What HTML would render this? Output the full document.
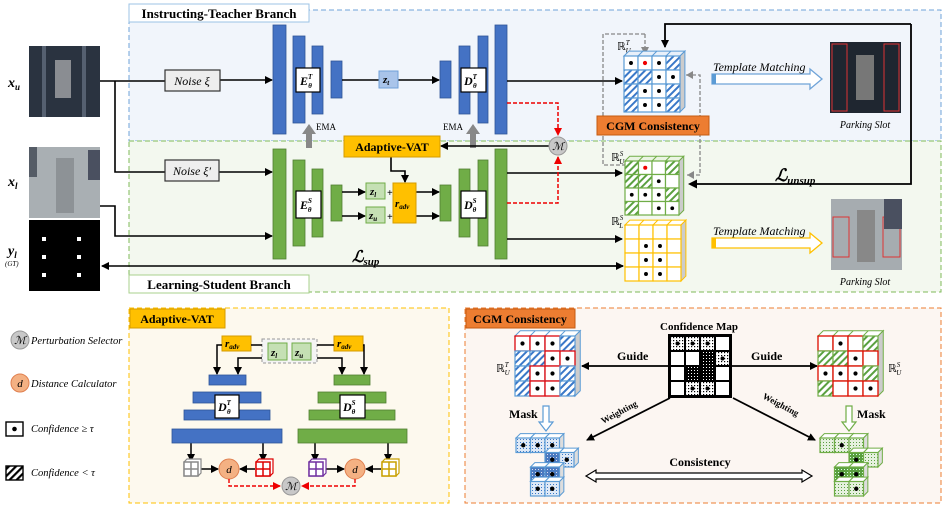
<!DOCTYPE html>
<html><head><meta charset="utf-8"><style>
html,body{margin:0;padding:0;background:#fff;}
svg{display:block;font-family:"Liberation Serif",serif;}
.it{font-style:italic;}
.b{font-weight:bold;}
</style></head><body>
<svg id="s" width="946" height="508" viewBox="0 0 946 508" xmlns="http://www.w3.org/2000/svg">
<defs>
<marker id="ak" markerWidth="8" markerHeight="8" refX="7" refY="4" orient="auto" markerUnits="userSpaceOnUse"><path d="M0,0 L8,4 L0,8 z" fill="#000"/></marker>
<marker id="ar" markerWidth="8" markerHeight="8" refX="7" refY="4" orient="auto" markerUnits="userSpaceOnUse"><path d="M0,0 L8,4 L0,8 z" fill="#e00"/></marker>
<marker id="ag" markerWidth="8" markerHeight="8" refX="7" refY="4" orient="auto" markerUnits="userSpaceOnUse"><path d="M0,0 L8,4 L0,8 z" fill="#888"/></marker>
<pattern id="hb" width="5" height="5" patternUnits="userSpaceOnUse" patternTransform="rotate(45)"><rect width="5" height="5" fill="#fff"/><rect width="2" height="5" fill="#3a78c8"/></pattern>
<pattern id="hg" width="5" height="5" patternUnits="userSpaceOnUse" patternTransform="rotate(45)"><rect width="5" height="5" fill="#fff"/><rect width="2" height="5" fill="#5aa040"/></pattern>
<pattern id="hk" width="5" height="5" patternUnits="userSpaceOnUse" patternTransform="rotate(45)"><rect width="5" height="5" fill="#fff"/><rect width="2.2" height="5" fill="#000"/></pattern>
<pattern id="dk" width="3" height="3" patternUnits="userSpaceOnUse"><rect width="3" height="3" fill="#000"/><rect x="1" y="1" width="1" height="1" fill="#fff"/></pattern>
<pattern id="dw" width="3" height="3" patternUnits="userSpaceOnUse"><rect width="3" height="3" fill="#fff"/><rect x="1" y="1" width="1.2" height="1.2" fill="#000"/></pattern>
<pattern id="db" width="3" height="3" patternUnits="userSpaceOnUse"><rect width="3" height="3" fill="#dfe9f6"/><rect x="1" y="1" width="1" height="1" fill="#3a78c8"/></pattern>
<pattern id="dg" width="3" height="3" patternUnits="userSpaceOnUse"><rect width="3" height="3" fill="#e6f1df"/><rect x="1" y="1" width="1" height="1" fill="#5aa040"/></pattern>
<pattern id="dgd" width="3" height="3" patternUnits="userSpaceOnUse"><rect width="3" height="3" fill="#5aa040"/><rect x="1" y="1" width="1" height="1" fill="#dfe"/></pattern>
<pattern id="dbd" width="3" height="3" patternUnits="userSpaceOnUse"><rect width="3" height="3" fill="#4a7ac0"/><rect x="1" y="1" width="1" height="1" fill="#dde"/></pattern>
</defs>

<rect x="129" y="10" width="812" height="131" fill="#f1f5fb" stroke="#6fa3d8" stroke-dasharray="5,3"/>
<rect x="129" y="141" width="812" height="151" fill="#f3f8ef" stroke="#7fba5a" stroke-dasharray="5,3"/>
<rect x="129" y="4" width="180" height="18" fill="#fff" stroke="#9cc3e6"/>
<text x="219" y="18" text-anchor="middle" font-size="13" class="b">Instructing-Teacher Branch</text>
<rect x="129" y="275" width="180" height="18" fill="#fff" stroke="#a8d08d"/>
<text x="219" y="289" text-anchor="middle" font-size="13" class="b">Learning-Student Branch</text>

<rect x="29" y="46" width="71" height="71" fill="#2a3340"/>
<rect x="55" y="60" width="16" height="38" fill="#8a8d92"/>
<rect x="42" y="46" width="4" height="71" fill="#556070"/><rect x="82" y="46" width="4" height="71" fill="#556070"/>
<rect x="29" y="147" width="71" height="71" fill="#a9afb3"/>
<rect x="56" y="158" width="18" height="55" fill="#8d9296"/>
<rect x="29" y="147" width="8" height="30" fill="#555c66"/><rect x="88" y="150" width="12" height="30" fill="#4a5060"/>
<rect x="29" y="220" width="71" height="71" fill="#000"/>
<g fill="#fff"><rect x="42" y="237" width="4" height="4"/><rect x="77" y="237" width="4" height="4"/><rect x="42" y="255" width="4" height="4"/><rect x="77" y="255" width="4" height="4"/><rect x="42" y="273" width="4" height="4"/><rect x="77" y="273" width="4" height="4"/></g>
<text x="8" y="87" font-size="14" class="it b">x<tspan font-size="9" dy="3">u</tspan></text>
<text x="8" y="186" font-size="14" class="it b">x<tspan font-size="9" dy="3">l</tspan></text>
<text x="8" y="255" font-size="14" class="it b">y<tspan font-size="9" dy="3">l</tspan></text>
<text x="5" y="266" font-size="7" class="it">(GT)</text>

<g stroke="#000" stroke-width="1.6" fill="none">
<line x1="100" y1="81" x2="165" y2="81"/>
<line x1="220" y1="80" x2="272" y2="80" marker-end="url(#ak)"/>
<polyline points="115,81 115,172 165,172"/>
<line x1="219" y1="172" x2="272" y2="172" marker-end="url(#ak)"/>
<polyline points="100,206 115,206 115,236 272,236" marker-end="url(#ak)"/>
<line x1="623" y1="266" x2="102" y2="266" marker-end="url(#ak)"/>
<line x1="500" y1="266" x2="623" y2="266" marker-end="url(#ak)"/>
</g>
<rect x="165" y="70" width="55" height="21" fill="#eee" stroke="#333" stroke-width="1.2"/>
<text x="192" y="85" text-anchor="middle" font-size="12" class="it">Noise ξ</text>
<rect x="165" y="160" width="54" height="21" fill="#eee" stroke="#333" stroke-width="1.2"/>
<text x="192" y="175" text-anchor="middle" font-size="12" class="it">Noise ξ′</text>

<g fill="#4472c4" stroke="#2f5597" stroke-width="0.8">
<rect x="273" y="25" width="13" height="109"/><rect x="293" y="36" width="12" height="87"/><rect x="312" y="46" width="11" height="68"/><rect x="331" y="61" width="11" height="37"/>
<rect x="440" y="61" width="11" height="37"/><rect x="459" y="46" width="11" height="68"/><rect x="478" y="36" width="10" height="87"/><rect x="495" y="25" width="12" height="109"/>
</g>
<g stroke="#000" stroke-width="1.6" fill="none">
<line x1="342" y1="80" x2="379" y2="80"/><line x1="398" y1="80" x2="439" y2="80" marker-end="url(#ak)"/>
<line x1="507" y1="81" x2="622" y2="81" marker-end="url(#ak)"/>
</g>
<rect x="296" y="68" width="24" height="24" fill="#fff" stroke="#000" stroke-width="1.2"/>
<text x="300" y="85" font-size="12" class="it b">E<tspan font-size="7" dy="-6">T</tspan><tspan font-size="7" dx="-4" dy="9">θ</tspan></text>
<rect x="461" y="68" width="25" height="24" fill="#fff" stroke="#000" stroke-width="1.2"/>
<text x="464" y="85" font-size="12" class="it b">D<tspan font-size="7" dy="-6">T</tspan><tspan font-size="7" dx="-4" dy="9">θ</tspan></text>
<rect x="379" y="71" width="19" height="17" fill="#a9c4ea" stroke="#6f9fd8"/>
<text x="383" y="83" font-size="11" class="it b">z<tspan font-size="7" dy="2">t</tspan></text>
<text x="316" y="130" font-size="9">EMA</text><text x="443" y="130" font-size="9">EMA</text>
<path d="M306,148 L306,134 L302,134 L309,124 L316,134 L312,134 L312,148 z" fill="#888"/>
<path d="M470,148 L470,134 L466,134 L473,124 L480,134 L476,134 L476,148 z" fill="#888"/>

<g fill="#70ad47" stroke="#507e32" stroke-width="0.8">
<rect x="273" y="149" width="13" height="110"/><rect x="293" y="160" width="12" height="86"/><rect x="312" y="169" width="11" height="68"/><rect x="331" y="185" width="11" height="36"/>
<rect x="440" y="185" width="11" height="36"/><rect x="459" y="169" width="11" height="68"/><rect x="478" y="160" width="10" height="86"/><rect x="495" y="149" width="12" height="110"/>
</g>
<rect x="296" y="191" width="25" height="27" fill="#fff" stroke="#000" stroke-width="1.2"/>
<text x="300" y="209" font-size="12" class="it b">E<tspan font-size="7" dy="-6">S</tspan><tspan font-size="7" dx="-4" dy="9">θ</tspan></text>
<rect x="461" y="191" width="25" height="27" fill="#fff" stroke="#000" stroke-width="1.2"/>
<text x="464" y="209" font-size="12" class="it b">D<tspan font-size="7" dy="-6">S</tspan><tspan font-size="7" dx="-4" dy="9">θ</tspan></text>
<g stroke="#000" stroke-width="1.6" fill="none">
<line x1="342" y1="192" x2="365" y2="192" marker-end="url(#ak)"/><line x1="342" y1="216" x2="365" y2="216" marker-end="url(#ak)"/>
<line x1="416" y1="192" x2="439" y2="192" marker-end="url(#ak)"/><line x1="416" y1="216" x2="439" y2="216" marker-end="url(#ak)"/>
<line x1="507" y1="173" x2="622" y2="173" marker-end="url(#ak)"/>
<line x1="507" y1="239" x2="622" y2="239" marker-end="url(#ak)"/>
<line x1="549" y1="146" x2="441" y2="146" marker-end="url(#ak)"/>
<polyline points="391,157 391,171 405,171 405,182" marker-end="url(#ak)"/>
</g>
<rect x="366" y="183" width="19" height="16" fill="#c5e0b4" stroke="#70ad47"/>
<text x="370" y="195" font-size="11" class="it b">z<tspan font-size="7" dy="2">l</tspan></text>
<rect x="366" y="207" width="19" height="16" fill="#c5e0b4" stroke="#70ad47"/>
<text x="369" y="219" font-size="11" class="it b">z<tspan font-size="7" dy="2">u</tspan></text>
<text x="387" y="196" font-size="10" class="b">+</text><text x="387" y="220" font-size="10" class="b">+</text>
<rect x="393" y="183" width="23" height="40" fill="#ffc000" stroke="#d59b00"/>
<text x="395" y="207" font-size="11" class="it b">r<tspan font-size="7" dy="2">adv</tspan></text>
<rect x="344" y="136" width="96" height="21" fill="#ffc000" stroke="#d59b00"/>
<text x="392" y="151" text-anchor="middle" font-size="12" class="b">Adaptive-VAT</text>
<g stroke="#e00" stroke-width="1.5" fill="none" stroke-dasharray="4,2">
<polyline points="507,103 558,103 558,135" marker-end="url(#ar)"/>
<polyline points="507,203 558,203 558,157" marker-end="url(#ar)"/>
</g>
<circle cx="558" cy="146" r="9" fill="#c8c8c8" stroke="#999"/>
<text x="558" y="150" text-anchor="middle" font-size="11" class="it">ℳ</text>
<text x="352" y="262" font-size="16" class="it b">ℒ<tspan font-size="11" dy="3">sup</tspan></text>

<g stroke="#888" stroke-width="1.3" fill="none" stroke-dasharray="4,2">
<polyline points="645,34 603,34 603,165 633,165" marker-end="url(#ag)"/>
<line x1="645" y1="34" x2="645" y2="54" marker-end="url(#ag)"/>
<polyline points="686,75 700,75 700,175 687,175" />
</g>
<path d="M686,75 l7,-4 v8z M687,175 l7,-4 v8z" fill="#888"/>
<g stroke="#000" stroke-width="1.8" fill="none">
<polyline points="911,24 665,24 665,47" marker-end="url(#ak)"/>
<polyline points="691,184 911,184 911,24"/>
</g>
<path d="M688,184 l9,-4.5 v9z" fill="#000"/>
<text x="775" y="181" font-size="17" class="it b">ℒ<tspan font-size="11" dy="3">unsup</tspan></text>

<rect x="597" y="116" width="112" height="19" fill="#ed7d31" stroke="#c55a11"/>
<text x="653" y="130" text-anchor="middle" font-size="12" class="b">CGM Consistency</text>
<text x="617" y="50" font-size="11">ℝ<tspan font-size="7" dy="-5" class="it">T</tspan><tspan font-size="7" dx="-4" dy="8" class="it">U</tspan></text>
<text x="611" y="161" font-size="11">ℝ<tspan font-size="7" dy="-5" class="it">S</tspan><tspan font-size="7" dx="-4" dy="8" class="it">U</tspan></text>
<text x="611" y="225" font-size="11">ℝ<tspan font-size="7" dy="-5" class="it">S</tspan><tspan font-size="7" dx="-4" dy="8" class="it">L</tspan></text>

<text x="713" y="71" font-size="12" class="it">Template Matching</text>
<path d="M712,74 h98 v-5 l12,10 l-12,10 v-5 h-98 z" fill="#fff" stroke="#6fa3d8" stroke-width="1.3"/>
<rect x="712" y="74" width="4" height="10" fill="#5b9bd5"/>
<rect x="830" y="42" width="71" height="71" fill="#1f2630"/>
<rect x="856" y="55" width="18" height="45" fill="#777"/>
<rect x="832" y="44" width="15" height="67" fill="none" stroke="#d33"/><rect x="884" y="44" width="15" height="67" fill="none" stroke="#d33"/>
<text x="865" y="128" text-anchor="middle" font-size="10" class="it">Parking Slot</text>
<text x="713" y="235" font-size="12" class="it">Template Matching</text>
<path d="M712,238 h98 v-5 l12,10 l-12,10 v-5 h-98 z" fill="#fff" stroke="#ffc000" stroke-width="1.3"/>
<rect x="712" y="238" width="4" height="10" fill="#ffc000"/>
<rect x="831" y="199" width="71" height="71" fill="#a6acb0"/>
<rect x="857" y="210" width="18" height="52" fill="#888"/>
<rect x="833" y="217" width="16" height="40" fill="none" stroke="#d33"/><rect x="883" y="217" width="17" height="40" fill="none" stroke="#d33"/>
<rect x="884" y="199" width="18" height="30" fill="#4a5060"/>
<text x="865" y="285" text-anchor="middle" font-size="10" class="it">Parking Slot</text>

<circle cx="20" cy="340" r="9" fill="#c8c8c8" stroke="#999"/><text x="20" y="344" text-anchor="middle" font-size="11" class="it">ℳ</text>
<text x="31" y="344" font-size="10.5" class="it">Perturbation Selector</text>
<circle cx="20" cy="383" r="9" fill="#f4b183" stroke="#e08050"/><text x="20" y="387" text-anchor="middle" font-size="11" class="it">d</text>
<text x="31" y="387" font-size="10.5" class="it">Distance Calculator</text>
<rect x="6" y="422" width="17" height="14" fill="#fff" stroke="#000" stroke-width="1.4"/><circle cx="14.5" cy="429" r="2.3"/>
<text x="31" y="432" font-size="10.5" class="it">Confidence  ≥ τ</text>
<rect x="6" y="466" width="17" height="14" fill="url(#hk)" stroke="#000" stroke-width="1.4"/>
<text x="31" y="476" font-size="10.5" class="it">Confidence &lt;  τ</text>

<rect x="129" y="308" width="320" height="195" fill="#fdf9ee" stroke="#ffc000" stroke-dasharray="5,3"/>
<rect x="130" y="309" width="95" height="19" fill="#ffc000" stroke="#d59b00"/>
<text x="177" y="323" text-anchor="middle" font-size="12" class="b">Adaptive-VAT</text>
<rect x="262" y="339" width="55" height="24" fill="#f4f4f4" stroke="#999" stroke-dasharray="3,2"/>
<rect x="268" y="343" width="19" height="17" fill="#c5e0b4" stroke="#70ad47"/><text x="271" y="356" font-size="11" class="it b">z<tspan font-size="7" dy="2">l</tspan></text>
<rect x="292" y="343" width="19" height="17" fill="#c5e0b4" stroke="#70ad47"/><text x="295" y="356" font-size="11" class="it b">z<tspan font-size="7" dy="2">u</tspan></text>
<rect x="222" y="336" width="29" height="15" fill="#ffc000" stroke="#d59b00"/><text x="225" y="347" font-size="11" class="it b">r<tspan font-size="7" dy="2">adv</tspan></text>
<rect x="334" y="336" width="29" height="15" fill="#ffc000" stroke="#d59b00"/><text x="337" y="347" font-size="11" class="it b">r<tspan font-size="7" dy="2">adv</tspan></text>
<g stroke="#000" stroke-width="1.5" fill="none">
<polyline points="251,345 262,345"/><polyline points="317,345 334,345"/>
<polyline points="222,345 217,345 217,374" marker-end="url(#ak)"/>
<polyline points="262,358 238,358 238,374" marker-end="url(#ak)"/>
<polyline points="363,345 364,345 364,374" marker-end="url(#ak)"/>
<polyline points="317,358 342,358 342,374" marker-end="url(#ak)"/>
<line x1="191" y1="443" x2="191" y2="461" marker-end="url(#ak)"/>
<line x1="263" y1="443" x2="263" y2="461" marker-end="url(#ak)"/>
<line x1="315" y1="443" x2="315" y2="461" marker-end="url(#ak)"/>
<line x1="388" y1="443" x2="388" y2="461" marker-end="url(#ak)"/>
<line x1="199" y1="469" x2="218" y2="469" marker-end="url(#ak)"/>
<line x1="255" y1="469" x2="240" y2="469" marker-end="url(#ak)"/>
<line x1="323" y1="469" x2="344" y2="469" marker-end="url(#ak)"/>
<line x1="381" y1="469" x2="366" y2="469" marker-end="url(#ak)"/>
</g>
<g fill="#4472c4" stroke="#2f5597" stroke-width="0.8">
<rect x="209" y="375" width="37" height="10"/><rect x="193" y="392" width="68" height="11"/><rect x="184" y="410" width="86" height="10"/><rect x="172" y="429" width="110" height="14"/>
</g>
<g fill="#70ad47" stroke="#507e32" stroke-width="0.8">
<rect x="334" y="375" width="36" height="10"/><rect x="318" y="392" width="68" height="11"/><rect x="309" y="410" width="86" height="10"/><rect x="298" y="429" width="109" height="14"/>
</g>
<rect x="215" y="395" width="24" height="23" fill="#fff" stroke="#000" stroke-width="1.2"/>
<text x="218" y="411" font-size="12" class="it b">D<tspan font-size="7" dy="-6">T</tspan><tspan font-size="7" dx="-4" dy="9">θ</tspan></text>
<rect x="340" y="395" width="25" height="23" fill="#fff" stroke="#000" stroke-width="1.2"/>
<text x="343" y="411" font-size="12" class="it b">D<tspan font-size="7" dy="-6">S</tspan><tspan font-size="7" dx="-4" dy="9">θ</tspan></text>
<g id="smallcubes"></g>
<circle cx="229" cy="469" r="10" fill="#f4b183" stroke="#e08050"/><text x="229" y="473" text-anchor="middle" font-size="11" class="it">d</text>
<circle cx="355" cy="469" r="10" fill="#f4b183" stroke="#e08050"/><text x="355" y="473" text-anchor="middle" font-size="11" class="it">d</text>
<g stroke="#e00" stroke-width="1.4" fill="none" stroke-dasharray="4,2">
<polyline points="229,479 229,486 280,486" marker-end="url(#ar)"/>
<polyline points="355,479 355,486 302,486" marker-end="url(#ar)"/>
</g>
<circle cx="291" cy="486" r="9" fill="#c8c8c8" stroke="#999"/><text x="291" y="490" text-anchor="middle" font-size="11" class="it">ℳ</text>

<rect x="465" y="308" width="476" height="195" fill="#fcf6f2" stroke="#ed7d31" stroke-dasharray="5,3"/>
<rect x="466" y="309" width="109" height="19" fill="#ed7d31" stroke="#c55a11"/>
<text x="520" y="323" text-anchor="middle" font-size="12" class="b">CGM Consistency</text>
<text x="699" y="330" text-anchor="middle" font-size="11" class="b">Confidence Map</text>
<text x="617" y="360" font-size="12" class="b">Guide</text>
<text x="751" y="360" font-size="12" class="b">Guide</text>
<text x="509" y="418" font-size="12" class="b">Mask</text>
<text x="857" y="418" font-size="12" class="b">Mask</text>
<text x="700" y="466" text-anchor="middle" font-size="12" class="b">Consistency</text>
<text x="0" y="0" font-size="9" class="b" transform="translate(603,424) rotate(-28)">Weighting</text>
<text x="0" y="0" font-size="9" class="b" transform="translate(762,398) rotate(28)">Weighting</text>
<text x="496" y="372" font-size="11">ℝ<tspan font-size="7" dy="-5" class="it">T</tspan><tspan font-size="7" dx="-4" dy="8" class="it">U</tspan></text>
<text x="888" y="372" font-size="11">ℝ<tspan font-size="7" dy="-5" class="it">S</tspan><tspan font-size="7" dx="-4" dy="8" class="it">U</tspan></text>
<g stroke="#000" stroke-width="1.8" fill="none">
<line x1="668" y1="366" x2="582" y2="366" marker-end="url(#ak)"/>
<line x1="732" y1="366" x2="817" y2="366" marker-end="url(#ak)"/>
<line x1="670" y1="398" x2="587" y2="440" marker-end="url(#ak)"/>
<line x1="733" y1="398" x2="815" y2="440" marker-end="url(#ak)"/>
</g>
<path d="M543,406 h6 v16 h4 l-7,9 l-7,-9 h4 z" fill="#fff" stroke="#5b9bd5" stroke-width="1.2"/>
<path d="M846,406 h6 v16 h4 l-7,9 l-7,-9 h4 z" fill="#fff" stroke="#70ad47" stroke-width="1.2"/>
<path d="M586,476 l10,-6 v3 h206 v-3 l10,6 l-10,6 v-3 h-206 v3 z" fill="#fff" stroke="#000" stroke-width="1.2"/>
<g id="grids"></g>
</svg>
<script>
var NS="http://www.w3.org/2000/svg";
function el(p,t,a){var e=document.createElementNS(NS,t);for(var k in a)e.setAttribute(k,a[k]);p.appendChild(e);return e;}
var G=document.getElementById("grids");
function grid(x,y,c,rows,col,hat,light,opt){opt=opt||{};var n=rows.length,m=rows[0].length,d=c*0.35;
 el(G,"path",{d:"M"+x+","+y+" l"+d+","+(-d)+" h"+(m*c)+" l"+(-d)+","+d+" z",fill:light,stroke:col,"stroke-width":1});
 el(G,"path",{d:"M"+(x+m*c)+","+y+" l"+d+","+(-d)+" v"+(n*c)+" l"+(-d)+","+d+" z",fill:"#ccc",stroke:col,"stroke-width":1});
 for(var j=1;j<m;j++)el(G,"line",{x1:x+j*c,y1:y,x2:x+j*c+d,y2:y-d,stroke:col});
 for(var i=0;i<n;i++)for(var j=0;j<m;j++){var v=rows[i][j],cx=x+j*c,cy=y+i*c;
  var f=(v=="h")?hat:"#fff";
  el(G,"rect",{x:cx,y:cy,width:c,height:c,fill:f,stroke:col,"stroke-width":1.2});
  if(v=="d")el(G,"circle",{cx:cx+c/2,cy:cy+c/2,r:c*0.14,fill:"#000"});
  if(v=="r")el(G,"circle",{cx:cx+c/2,cy:cy+c/2,r:c*0.15,fill:"#e00"});
  if(opt.red&&v!="h")el(G,"rect",{x:cx,y:cy,width:c,height:c,fill:"none",stroke:"#e00","stroke-width":1.2});
 }}
grid(624,56,14,[["d","r","d","h"],["h","h","d","d"],["h","d","d","h"],["h","d","d","h"]],"#5b9bd5","url(#hb)","#e8f0fa");
grid(625,161,13.5,[["h","r","","h"],["h","h","d",""],["d","d","d","h"],["h","","d","d"]],"#70ad47","url(#hg)","#eaf4e2");
grid(625,225,14,[["","","",""],["","d","d",""],["","d","d",""],["","d","d",""]],"#ffc000","#fff","#fff");
grid(515,336,15,[["d","d","d","h"],["h","h","d","d"],["h","d","d","h"],["h","d","d","h"]],"#5b9bd5","url(#hb)","#fff",{red:1});
grid(818,336,15,[["","d","","h"],["h","h","d",""],["d","d","d","h"],["h","","d","d"]],"#70ad47","url(#hg)","#fff",{red:1});
(function(){var x=670,y=336,c=15,p=[["Wd","Wd","Wd",""],["","","K","Wd"],["","K","K",""],["","Wd","Wd",""]];
 el(G,"rect",{x:x-2,y:y-2,width:64,height:64,fill:"#000"});
 for(var i=0;i<4;i++)for(var j=0;j<4;j++){var v=p[i][j],f=v=="K"?"url(#dk)":v=="Wd"?"url(#dw)":"#fff";
  el(G,"rect",{x:x+j*c+1,y:y+i*c+1,width:c-2,height:c-2,fill:f});
  if(v=="Wd")el(G,"circle",{cx:x+j*c+c/2,cy:y+i*c+c/2,r:2,fill:"#000"});}})();
function cubes(x,y,c,cells,col,pl,pd){cells.forEach(function(q){var cx=x+q[1]*c,cy=y+q[0]*c,d=c*0.3;
 el(G,"path",{d:"M"+cx+","+cy+" l"+d+","+(-d)+" h"+c+" l"+(-d)+","+d+" z",fill:"#fff",stroke:col});
 el(G,"path",{d:"M"+(cx+c)+","+cy+" l"+d+","+(-d)+" v"+c+" l"+(-d)+","+d+" z",fill:"#ddd",stroke:col});
 el(G,"rect",{x:cx,y:cy,width:c,height:c,fill:q[2]?pd:pl,stroke:col,"stroke-width":1.2});
 if(q[3])el(G,"circle",{cx:cx+c/2,cy:cy+c/2,r:2.2,fill:"#000"});});}
cubes(516,438,14.5,[[0,0,0,1],[0,1,0,1],[0,2,0,1],[1,2,1,1],[1,3,0,1],[2,1,1,1],[2,2,1,1],[3,1,0,1],[3,2,0,1]],"#5b9bd5","url(#db)","url(#dbd)");
cubes(820,438,14.5,[[0,0,0,0],[0,1,0,1],[0,2,0,0],[1,2,1,1],[1,3,0,0],[2,1,1,1],[2,2,1,1],[3,1,0,0],[3,2,0,1]],"#70ad47","url(#dg)","url(#dgd)");
var S=document.getElementById("smallcubes");
function sc(x,y,col){var c=14,d=3;
 el(S,"path",{d:"M"+x+","+y+" l"+d+","+(-d)+" h"+c+" v"+c+" l"+(-d)+","+d+" h"+(-c)+" z",fill:"#fff",stroke:col,"stroke-width":1.2});
 el(S,"rect",{x:x,y:y,width:c,height:c,fill:"#fff",stroke:col,"stroke-width":1.5});
 el(S,"line",{x1:x+c/2,y1:y,x2:x+c/2,y2:y+c,stroke:col,"stroke-width":1.5});
 el(S,"line",{x1:x,y1:y+c/2,x2:x+c,y2:y+c/2,stroke:col,"stroke-width":1.5});}
sc(184,462,"#888");sc(256,462,"#d00");sc(309,462,"#7030a0");sc(382,462,"#c9a000");
</script>
</body></html>
